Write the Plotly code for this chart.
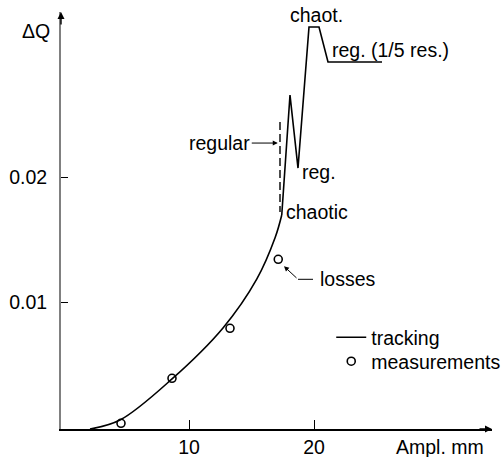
import plotly.graph_objects as go

# Tracking curve: smooth part (mm, delta Q)
track_x = [2.08, 4.48, 8.62, 12.72, 15.42, 16.9, 17.42]
track_y = [-0.00014, 0.00058, 0.00385, 0.00795, 0.01185, 0.0152, 0.01698]

# Tracking curve: jagged part above the chaotic threshold
spike_x = [17.42, 18.08, 18.72, 19.6, 20.4, 21.12, 25.44]
spike_y = [0.01698, 0.02658, 0.02074, 0.03202, 0.03202, 0.02922, 0.02922]

# "regular" dashed marker
reg_x = [17.28, 17.28]
reg_y = [0.02442, 0.01722]

# Measurements
meas_x = [4.56, 8.64, 13.28, 17.14]
meas_y = [0.00032, 0.00392, 0.00792, 0.01344]

x_ticks = [10, 20]
x_ticklabels = ["10", "20"]
y_ticks = [0.01, 0.02]
y_ticklabels = ["0.01", "0.02"]

FONT = "Liberation Sans, Arial, Helvetica, sans-serif"
FS = 19.5
X_RANGE = [-0.24, 34.24]
Y_RANGE = [-0.000136, 0.033224]

fig = go.Figure()
fig.add_trace(go.Scatter(x=track_x, y=track_y, mode="lines", name="tracking",
                         line=dict(color="black", width=1.6, shape="spline", smoothing=1.0),
                         showlegend=True, legend="legend"))
fig.add_trace(go.Scatter(x=spike_x, y=spike_y, mode="lines", name="tracking",
                         line=dict(color="black", width=1.6), showlegend=False))
fig.add_trace(go.Scatter(x=reg_x, y=reg_y, mode="lines", showlegend=False,
                         line=dict(color="black", width=1.4, dash="8px,4px")))
fig.add_trace(go.Scatter(x=meas_x, y=meas_y, mode="markers", name="measurements",
                         legend="legend2",
                         marker=dict(symbol="circle-open", size=8, color="black",
                                     line=dict(width=1.6, color="black"))))

ann = []
def txt(x, y, t, xanchor="left", yanchor="middle"):
    ann.append(dict(x=x, y=y, xref="x", yref="y", text=t, showarrow=False,
                    xanchor=xanchor, yanchor=yanchor, font=dict(size=FS, family=FONT, color="black")))

txt(17.62, 0.01725, "chaotic")
txt(18.9, 0.02045, "reg.")
txt(20.2, 0.0330, "chaot.", xanchor="center")
txt(21.24, 0.0302, "reg. (1/5 res.)")
txt(20.35, 0.01184, "losses")
# regular with arrow
ann.append(dict(x=17.1, y=0.02274, xref="x", yref="y", ax=-58, ay=0, text="regular",
                showarrow=True, arrowhead=2, arrowsize=1, arrowwidth=1, arrowcolor="black",
                font=dict(size=FS, family=FONT, color="black")))
# losses arrow
ann.append(dict(x=17.6, y=0.01288, xref="x", yref="y", ax=18.72, ay=0.01184,
                axref="x", ayref="y", text="", showarrow=True, arrowhead=2,
                arrowsize=1, arrowwidth=1, arrowcolor="black"))
# axis titles
ann.append(dict(x=-0.057, y=0.955, xref="paper", yref="paper", text="ΔQ", showarrow=False,
                xanchor="center", yanchor="middle", font=dict(size=FS, family=FONT, color="black")))
ann.append(dict(x=0.879, y=-0.043, xref="paper", yref="paper", text="Ampl. mm", showarrow=False,
                xanchor="center", yanchor="middle", font=dict(size=FS, family=FONT, color="black")))
# axis arrowheads
ann.append(dict(x=1, y=0, xref="paper", yref="paper", ax=-14, ay=0, text="", showarrow=True,
                arrowhead=2, arrowsize=1, arrowwidth=1.4, arrowcolor="black"))
ann.append(dict(x=0, y=1, xref="paper", yref="paper", ax=0, ay=14, text="", showarrow=True,
                arrowhead=2, arrowsize=1, arrowwidth=1.4, arrowcolor="black"))

shapes = [dict(type="line", xref="x", yref="y", x0=18.72, y0=0.01184, x1=19.92, y1=0.01184,
               line=dict(color="black", width=1))]

leg_common = dict(xanchor="left", yanchor="top", bgcolor="rgba(0,0,0,0)",
                  font=dict(size=FS, family=FONT, color="black"), tracegroupgap=0, itemwidth=30)

fig.update_layout(
    width=503, height=457,
    margin=dict(l=61, r=11, t=12, b=28, pad=0, autoexpand=False),
    paper_bgcolor="white", plot_bgcolor="white",
    font=dict(family=FONT, size=FS, color="black"),
    annotations=ann, shapes=shapes,
    legend=dict(x=0.627, y=0.266, **leg_common),
    legend2=dict(x=0.627, y=0.2086, **leg_common),
    xaxis=dict(range=X_RANGE, showgrid=False, zeroline=False, showline=True, automargin=False,
               linecolor="black", linewidth=1.5, ticks="inside", ticklen=9, tickwidth=1,
               tickcolor="black", tickvals=x_ticks, ticktext=x_ticklabels,
               ticklabelstandoff=0),
    yaxis=dict(range=Y_RANGE, showgrid=False, zeroline=False, showline=True, automargin=False,
               linecolor="#808080", linewidth=2, ticks="inside", ticklen=7, tickwidth=1,
               tickcolor="black", tickvals=y_ticks, ticktext=y_ticklabels,
               ticklabelstandoff=8),
)

fig.write_html("out.html")
